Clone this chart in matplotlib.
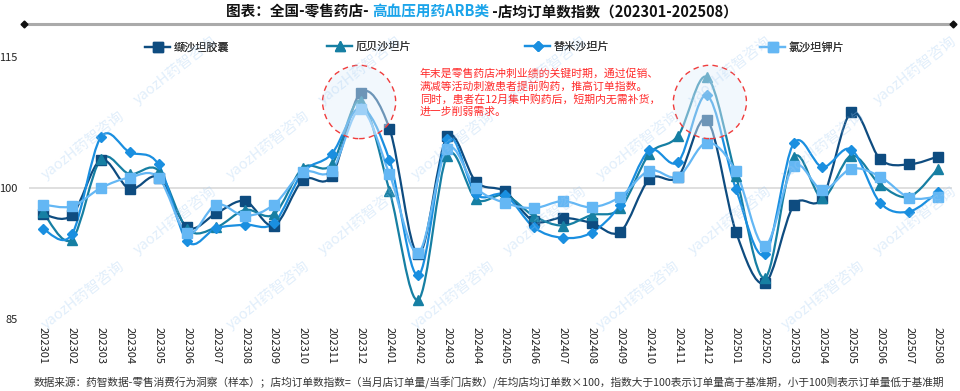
import numpy as np
import matplotlib
matplotlib.use("Agg")
from matplotlib import pyplot as plt
from matplotlib.path import Path
from matplotlib.patches import PathPatch, Ellipse
from matplotlib.lines import Line2D

plt.rcParams['font.family'] = ['Noto Sans CJK SC', 'DejaVu Sans']

# data
months = ["202301", "202302", "202303", "202304", "202305", "202306", "202307", "202308",
          "202309", "202310", "202311", "202312", "202401", "202402", "202403", "202404",
          "202405", "202406", "202407", "202408", "202409", "202410", "202411", "202412",
          "202501", "202502", "202503", "202504", "202505", "202506", "202507", "202508"]

valsartan = [97.0, 96.9, 103.2, 99.9, 101.2, 95.5, 97.1, 98.5, 95.7, 100.9, 101.4, 110.9,
             106.8, 92.4, 105.9, 100.7, 99.6, 96.2, 96.6, 96.0, 95.0, 101.0, 101.3, 107.8,
             95.0, 89.1, 98.0, 98.9, 108.7, 103.3, 102.7, 103.6]
irbesartan = [97.2, 94.1, 103.3, 101.6, 102.0, 95.3, 95.5, 97.5, 97.0, 102.3, 102.7, 110.0,
              99.7, 87.2, 103.7, 98.7, 99.2, 96.8, 95.7, 96.9, 97.7, 103.9, 106.0, 112.7,
              101.4, 89.7, 103.5, 98.9, 103.7, 100.4, 99.0, 102.2]
telmisartan = [95.3, 94.7, 105.8, 104.1, 102.7, 93.9, 95.4, 95.8, 96.0, 101.8, 103.9, 109.2,
               103.2, 90.0, 105.6, 99.3, 99.2, 95.5, 94.3, 94.9, 98.1, 104.3, 103.0, 110.6,
               99.9, 92.4, 105.1, 102.4, 104.4, 98.3, 97.3, 99.5]
losartan = [98.1, 97.9, 100.0, 101.2, 101.2, 94.8, 98.1, 96.8, 98.1, 101.8, 102.0, 109.0,
            101.6, 92.6, 104.5, 100.0, 98.3, 97.7, 98.5, 97.8, 99.0, 102.0, 101.3, 105.2,
            101.9, 93.4, 102.5, 99.8, 102.2, 101.3, 98.9, 99.0]

names = ["缬沙坦胶囊", "厄贝沙坦片", "替米沙坦片", "氯沙坦钾片"]
series = [valsartan, irbesartan, telmisartan, losartan]
colors = ["#0e4c80", "#167fa3", "#1a8fe0", "#64b7f4"]
markers = ["s", "^", "D", "s"]
msizes = [6.5, 6.5, 5.0, 6.5]

note = ("年末是零售药店冲刺业绩的关键时期，通过促销、\n"
        "满减等活动刺激患者提前购药，推高订单指数。\n"
        "同时，患者在12月集中购药后，短期内无需补货，\n"
        "进一步削弱需求。")
footnote = ("数据来源：药智数据-零售消费行为洞察（样本）；店均订单数指数=（当月店订单量/当季门店数）"
            "/年均店均订单数×100，指数大于100表示订单量高于基准期，小于100则表示订单量低于基准期")


def smooth_path(x, y, k=1.0):
    # catmull-rom style bezier through the points
    pts = np.column_stack([x, y])
    verts = [pts[0]]
    codes = [Path.MOVETO]
    n = len(pts)
    for i in range(n - 1):
        p0 = pts[i - 1] if i > 0 else pts[i]
        p1 = pts[i]
        p2 = pts[i + 1]
        p3 = pts[i + 2] if i + 2 < n else pts[i + 1]
        c1 = p1 + (p2 - p0) / 6.0 * k
        c2 = p2 - (p3 - p1) / 6.0 * k
        verts += [c1, c2, p2]
        codes += [Path.CURVE4] * 3
    return Path(verts, codes)


W, H = 960, 391
fig = plt.figure(figsize=(9.6, 3.91), dpi=100)
ax = fig.add_axes([28.6 / W, 1 - 319 / H, 923.8 / W, 262 / H])

x = np.arange(len(months))
ax.axhline(100, color="#dcdcdc", lw=1.3, zorder=0)

handles = []
for vals, name, c, m, ms in zip(series, names, colors, markers, msizes):
    ax.add_patch(PathPatch(smooth_path(x, np.array(vals)), facecolor="none",
                           edgecolor=c, lw=1.6, zorder=2))
    ax.plot(x, vals, linestyle="none", marker=m, markersize=ms, color=c, zorder=3)
    handles.append(Line2D([], [], color=c, lw=1.6, marker=m, markersize=ms))

# highlight circles around the december peaks
for cx in [10.95, 23.1]:
    ax.add_patch(Ellipse((cx, 109.85), 2.53, 8.4, facecolor="#e3f0fc", alpha=0.45,
                         edgecolor="none", zorder=4))
    ax.add_patch(Ellipse((cx, 109.85), 2.53, 8.4, facecolor="none", edgecolor="#f03c3c",
                         lw=1.0, linestyle=(0, (4, 3)), zorder=5))

ax.set_xlim(-0.5, len(months) - 0.5)
ax.set_ylim(85, 115)
ax.set_yticks([85, 100, 115])
ax.set_xticks(x)
ax.set_xticklabels(months, rotation=270, fontsize=8, color="#222222")
ax.tick_params(axis="y", labelsize=8, colors="#222222", length=0, pad=8)
ax.tick_params(axis="x", length=0, pad=6)
for s in ax.spines.values():
    s.set_visible(False)

# legend entries spread across the top
for h, name, xs in zip(handles, names, [148, 330, 528, 763]):
    lg = fig.legend([h], [name], loc="center left", bbox_to_anchor=(xs / W - 0.008, 1 - 47 / H),
                    frameon=False, fontsize=8, handlelength=2.3, handletextpad=0.3,
                    borderaxespad=0)
    for t in lg.get_texts():
        t.set_color("#333333")
    fig.add_artist(lg)

fig.text(420 / W, 1 - 68 / H, note, color="#ff2a2a", fontsize=7.8, va="top", ha="left",
         linespacing=1.25)

# title in three colored pieces
parts = ["图表：全国-零售药店- ", "高血压用药ARB类", " -店均订单数指数（202301-202508）"]
pcols = ["#111111", "#1ba4ea", "#111111"]
fig.canvas.draw()
r = fig.canvas.get_renderer()
texts = [fig.text(0, 1 - 12 / H, p, color=c, fontsize=10.5, fontweight="bold", va="center")
         for p, c in zip(parts, pcols)]
widths = [t.get_window_extent(renderer=r).width for t in texts]
xpos = 482 - sum(widths) / 2
for t, w in zip(texts, widths):
    t.set_x(xpos / W)
    xpos += w

fig.add_artist(Line2D([24 / W, 953 / W], [1 - 24 / H, 1 - 24 / H], color="#aaaaaa", lw=2.2))
fig.add_artist(Line2D([24 / W, 953 / W], [1 - 24 / H, 1 - 24 / H], color="#111111",
                      linestyle="none", marker="D", markersize=3.5))

fig.text(34 / W, 1 - 383 / H, footnote, fontsize=7.7, style="italic", color="#333333",
         va="center", ha="left")

# watermark
for row, yy in enumerate([70, 145, 220, 295]):
    off = 0 if row % 2 == 0 else -92
    for xx in np.arange(175 + off, 920, 185):
        if xx < 50:
            continue
        fig.text(xx / W, 1 - yy / H, "yaozH药智咨询", fontsize=10.5, color="#9cc8f2", alpha=0.3,
                 rotation=38, ha="center", va="center", zorder=10)

fig.savefig("out.png", dpi=100)
